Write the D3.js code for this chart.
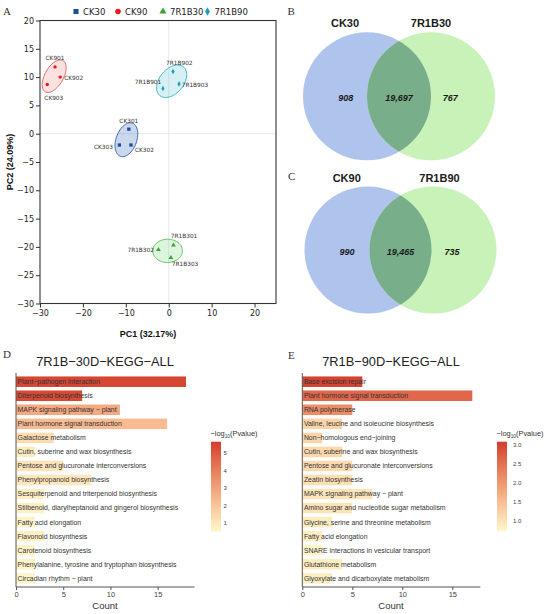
<!DOCTYPE html>
<html><head><meta charset="utf-8">
<script src="https://cdn.jsdelivr.net/npm/d3@7"></script>
<style>body{margin:0;background:#fff} svg{display:block}</style>
</head><body>
<svg id="c" width="550" height="614"></svg>
<script>
// ---------------- Panel A: PCA data ----------------
const pcaGroups = ["CK30", "CK90", "7R1B30", "7R1B90"];
const pcaSamples = ["CK301","CK302","CK303","CK901","CK902","CK903","7R1B301","7R1B302","7R1B303","7R1B901","7R1B902","7R1B903"];
const pcaGroupOf = ["CK30","CK30","CK30","CK90","CK90","CK90","7R1B30","7R1B30","7R1B30","7R1B90","7R1B90","7R1B90"];
const pc1 = [-9.3, -8.8, -11.5, -26.5, -25.3, -28.3, 1.1, -2.4, 0.5, -1.35, 1.0, 2.4];
const pc2 = [0.8, -2.0, -2.0, 11.8, 10.0, 8.7, -19.7, -20.5, -21.9, 8.0, 11.0, 8.8];
const pcaXTicks = [-30, -20, -10, 0, 10, 20];
const pcaYTicks = [-30, -25, -20, -15, -10, -5, 0, 5, 10, 15, 20];
const pcaXLabel = "PC1 (32.17%)";
const pcaYLabel = "PC2 (24.09%)";

// ---------------- Panels B, C: Venn data ----------------
const vennBSets = ["CK30", "7R1B30"];
const vennBCounts = [908, 19697, 767];
const vennCSets = ["CK90", "7R1B90"];
const vennCCounts = [990, 19465, 735];

// ---------------- Panel D: KEGG 30D ----------------
const keggDTitle = "7R1B\u221230D\u2212KEGG\u2212ALL";
const keggDTerms = ["Plant\u2212pathogen interaction","Diterpenoid biosynthesis","MAPK signaling pathway \u2212 plant","Plant hormone signal transduction","Galactose metabolism","Cutin, suberine and wax biosynthesis","Pentose and glucuronate interconversions","Phenylpropanoid biosynthesis","Sesquiterpenoid and triterpenoid biosynthesis","Stilbenoid, diarylheptanoid and gingerol biosynthesis","Fatty acid elongation","Flavonoid biosynthesis","Carotenoid biosynthesis","Phenylalanine, tyrosine and tryptophan biosynthesis","Circadian rhythm \u2212 plant"];
const keggDCount = [18, 7, 11, 16, 4, 2, 5, 8, 3, 3, 2, 3, 2, 2, 2];
const keggDLogP = [5.4, 5.3, 2.8, 2.3, 1.3, 0.85, 1.1, 1.0, 0.75, 0.75, 0.7, 0.75, 0.65, 0.65, 0.62];
const keggDXTicks = [0, 5, 10, 15];
const keggDLegendTicks = [1, 2, 3, 4, 5];

// ---------------- Panel E: KEGG 90D ----------------
const keggETitle = "7R1B\u221290D\u2212KEGG\u2212ALL";
const keggETerms = ["Base excision repair","Plant hormone signal transduction","RNA polymerase","Valine, leucine and isoleucine biosynthesis","Non\u2212homologous end\u2212joining","Cutin, suberine and wax biosynthesis","Pentose and glucuronate interconversions","Zeatin biosynthesis","MAPK signaling pathway \u2212 plant","Amino sugar and nucleotide sugar metabolism","Glycine, serine and threonine metabolism","Fatty acid elongation","SNARE interactions in vesicular transport","Glutathione metabolism","Glyoxylate and dicarboxylate metabolism"];
const keggECount = [6, 17, 5, 4, 2, 4, 5, 5, 7, 5, 3, 2, 2, 4, 3];
const keggELogP = [3.02, 2.62, 2.14, 1.19, 1.19, 1.15, 1.12, 1.05, 0.98, 1.0, 0.88, 0.85, 0.74, 0.86, 0.84];
const keggEXTicks = [0, 5, 10, 15];
const keggELegendTicks = [1.0, 1.5, 2.0, 2.5, 3.0];

// ================= drawing =================
const svg = d3.select("#c");
const SANS = "'Liberation Sans', Arial, sans-serif";
const DJ = "'DejaVu Sans', sans-serif";
const SERIF = "'Liberation Serif', 'Times New Roman', serif";

function letter(t, x, y) {
  svg.append("text").attr("x", x).attr("y", y).text(t)
    .attr("font-family", SERIF).attr("font-size", 11).attr("fill", "#333");
}
letter("A", 3, 15); letter("B", 287.5, 15); letter("C", 288, 179.5);
letter("D", 3, 358); letter("E", 288, 359);

// ---------- Panel A ----------
const groupStyle = {
  "CK30":   {col: "#1f4e9c", fill: "rgba(70,110,185,0.28)", stroke: "#2d5ea8", sym: d3.symbolSquare, size: 11, lsize: 26},
  "CK90":   {col: "#e3191c", fill: "rgba(240,120,120,0.22)", stroke: "#e05a5a", sym: d3.symbolCircle, size: 9, lsize: 24},
  "7R1B30": {col: "#3aa33a", fill: "rgba(120,210,120,0.25)", stroke: "#5cbf5c", sym: d3.symbolTriangle, size: 10, lsize: 22},
  "7R1B90": {col: "#1aa3b8", fill: "rgba(110,200,220,0.28)", stroke: "#2fb0c6", sym: d3.symbolDiamond, size: 9, lsize: 20}
};
const labelOff = {
  "CK301": [0, -6, "middle"], "CK302": [4, 6.5, "start"], "CK303": [-6.5, 3.5, "end"],
  "CK901": [0, -7, "middle"], "CK902": [4, 2.8, "start"], "CK903": [6.5, 15.5, "middle"],
  "7R1B301": [-2.6, -7, "start"], "7R1B302": [-4.5, 1.8, "end"], "7R1B303": [1, 8, "start"],
  "7R1B901": [-1.7, -4, "end"], "7R1B902": [6.3, -6.7, "middle"], "7R1B903": [2.7, 3, "start"]
};

const xA = d3.scaleLinear().domain([-30, 25]).range([40, 276]);
const yA = d3.scaleLinear().domain([-30, 20]).range([303.5, 20.5]);
const gA = svg.append("g");

gA.append("line").attr("x1", xA(0)).attr("x2", xA(0)).attr("y1", yA(20)).attr("y2", yA(-30))
  .attr("stroke", "#e2e2e2").attr("stroke-width", 0.8);
gA.append("line").attr("x1", xA(-30)).attr("x2", xA(25)).attr("y1", yA(0)).attr("y2", yA(0))
  .attr("stroke", "#e2e2e2").attr("stroke-width", 0.8);

function ellipsePoints(xs, ys, k) {
  const n = xs.length, mx = d3.mean(xs), my = d3.mean(ys);
  let sxx = 0, syy = 0, sxy = 0;
  for (let i = 0; i < n; i++) {
    sxx += (xs[i] - mx) ** 2; syy += (ys[i] - my) ** 2; sxy += (xs[i] - mx) * (ys[i] - my);
  }
  sxx /= n - 1; syy /= n - 1; sxy /= n - 1;
  const tr = (sxx + syy) / 2, dd = Math.sqrt(((sxx - syy) / 2) ** 2 + sxy ** 2);
  const l1 = tr + dd, l2 = Math.max(tr - dd, 1e-6);
  const a = Math.abs(sxy) < 1e-9 ? (sxx >= syy ? 0 : Math.PI / 2) : Math.atan2(l1 - sxx, sxy);
  const pts = [];
  for (let i = 0; i <= 72; i++) {
    const t = i / 72 * 2 * Math.PI;
    const u = k * Math.sqrt(l1) * Math.cos(t), v = k * Math.sqrt(l2) * Math.sin(t);
    pts.push([mx + u * Math.cos(a) - v * Math.sin(a), my + u * Math.sin(a) + v * Math.cos(a)]);
  }
  return pts;
}
const lineA = d3.line().x(d => xA(d[0])).y(d => yA(d[1]));
pcaGroups.forEach(g => {
  const idx = d3.range(pcaSamples.length).filter(i => pcaGroupOf[i] === g);
  const pts = ellipsePoints(idx.map(i => pc1[i]), idx.map(i => pc2[i]), 1.85);
  gA.append("path").attr("d", lineA(pts)).attr("fill", groupStyle[g].fill)
    .attr("stroke", groupStyle[g].stroke).attr("stroke-width", 0.9);
});

pcaSamples.forEach((s, i) => {
  const st = groupStyle[pcaGroupOf[i]];
  const px = xA(pc1[i]), py = yA(pc2[i]);
  gA.append("path").attr("d", d3.symbol().type(st.sym).size(st.size)())
    .attr("transform", `translate(${px},${py})`).attr("fill", st.col);
  const o = labelOff[s];
  gA.append("text").attr("x", px + o[0]).attr("y", py + o[1]).text(s)
    .attr("text-anchor", o[2]).attr("font-family", DJ).attr("font-size", 5.8).attr("fill", "#333");
});

// axes
const axL = d3.axisLeft(yA).tickValues(pcaYTicks).tickSize(4).tickPadding(2);
const axB = d3.axisBottom(xA).tickValues(pcaXTicks).tickSize(4).tickPadding(2.5);
const gl = gA.append("g").attr("transform", `translate(${xA(-30)},0)`).call(axL);
const gb = gA.append("g").attr("transform", `translate(0,${yA(-30)})`).call(axB);
[gl, gb].forEach(g => {
  g.select(".domain").remove();
  g.selectAll("line").attr("stroke", "#333");
  g.selectAll("text").attr("font-family", DJ).attr("font-size", 8).attr("fill", "#222");
});
gA.append("rect").attr("x", xA(-30)).attr("y", yA(20)).attr("width", xA(25) - xA(-30))
  .attr("height", yA(-30) - yA(20)).attr("fill", "none").attr("stroke", "#333").attr("stroke-width", 1.1);
gA.append("text").attr("x", (xA(-30) + xA(25)) / 2 - 10).attr("y", 337).attr("text-anchor", "middle")
  .text(pcaXLabel).attr("font-family", SANS).attr("font-weight", "bold").attr("font-size", 9).attr("fill", "#111");
gA.append("text").attr("transform", `translate(13,${(yA(20) + yA(-30)) / 2}) rotate(-90)`)
  .attr("text-anchor", "middle").text(pcaYLabel)
  .attr("font-family", SANS).attr("font-weight", "bold").attr("font-size", 9).attr("fill", "#111");

// legend A
const legX = [76, 118, 163, 207.5];
pcaGroups.forEach((g, i) => {
  const st = groupStyle[g];
  gA.append("path").attr("d", d3.symbol().type(st.sym).size(st.lsize)())
    .attr("transform", `translate(${legX[i]},11.5)`).attr("fill", st.col);
  gA.append("text").attr("x", legX[i] + 7).attr("y", 14.6).text(g)
    .attr("font-family", DJ).attr("font-size", 8.5).attr("fill", "#222");
});

// ---------- Venn panels ----------
function venn(sets, counts, cx1, cx2, cy, r, labY, labX, numY, id) {
  const g = svg.append("g");
  const defs = g.append("defs");
  defs.append("clipPath").attr("id", id).append("circle").attr("cx", cx1).attr("cy", cy).attr("r", r);
  g.append("circle").attr("cx", cx1).attr("cy", cy).attr("r", r).attr("fill", "#aec4ec");
  g.append("circle").attr("cx", cx2).attr("cy", cy).attr("r", r).attr("fill", "#c9f2b8");
  g.append("circle").attr("cx", cx2).attr("cy", cy).attr("r", r).attr("fill", "#79ae8b")
    .attr("clip-path", `url(#${id})`);
  sets.forEach((s, i) => {
    g.append("text").attr("x", labX[i]).attr("y", labY).attr("text-anchor", "middle").text(s)
      .attr("font-family", SANS).attr("font-weight", "bold").attr("font-size", 11).attr("fill", "#1a1a1a");
  });
  const nx = [cx1 - 0.33 * r, (cx1 + cx2) / 2, cx2 + 0.3 * r];
  const fmt = d3.format(",");
  counts.forEach((c, i) => {
    g.append("text").attr("x", nx[i]).attr("y", numY).attr("text-anchor", "middle").text(fmt(c))
      .attr("font-family", SANS).attr("font-weight", "bold").attr("font-style", "italic")
      .attr("font-size", 9).attr("fill", "#1a1a1a");
  });
}
venn(vennBSets, vennBCounts, 367, 431, 96.3, 64, 27.3, [345, 431], 101, "clipB");
venn(vennCSets, vennCCounts, 368, 433, 250, 63.5, 181.7, [346.7, 439.5], 255, "clipC");

// ---------- KEGG bar panels ----------
const lowCol = "#fff8cc", highCol = "#d23b2d";
function keggPanel(o) {
  const g = svg.append("g");
  const x = d3.scaleLinear().domain([0, o.xMax]).range([o.x0, o.x1]);
  const y = d3.scaleBand().domain(o.terms).range([373, 587]).paddingInner(0.25).paddingOuter(0.245);
  const col = d3.scaleLinear().domain(o.cDomain).range([lowCol, highCol]).interpolate(d3.interpolateLab).clamp(true);

  g.append("text").attr("x", o.titleX).attr("y", 366).attr("text-anchor", "middle").text(o.title)
    .attr("font-family", SANS).attr("font-size", 12.8).attr("fill", "#222");

  o.terms.forEach((t, i) => {
    g.append("rect").attr("x", x(0)).attr("y", y(t)).attr("width", x(o.counts[i]) - x(0))
      .attr("height", y.bandwidth()).attr("fill", col(o.logp[i]));
  });
  o.terms.forEach(t => {
    g.append("text").attr("x", x(0) + 1.6).attr("y", y(t) + y.bandwidth() / 2 + 2.4).text(t)
      .attr("font-family", SANS).attr("font-size", 6.9).attr("fill", "#333");
  });
  const ax = d3.axisBottom(x).tickValues(o.xTicks).tickSize(3).tickPadding(1.5);
  const ga = g.append("g").attr("transform", `translate(0,587)`).call(ax);
  ga.select(".domain").attr("stroke", "#555").attr("d", `M${x(0)},0H${o.x1}`);
  ga.selectAll("line").attr("stroke", "#555");
  ga.selectAll("text").attr("font-family", SANS).attr("font-size", 7.5).attr("fill", "#444");
  g.append("line").attr("x1", x(0)).attr("x2", x(0)).attr("y1", 373).attr("y2", 587)
    .attr("stroke", "#555").attr("stroke-width", 1);
  g.append("text").attr("x", o.titleX).attr("y", 609).attr("text-anchor", "middle").text("Count")
    .attr("font-family", SANS).attr("font-size", 9.5).attr("fill", "#333");

  // legend
  const lx = o.legX, top = 441.7, bot = 531.7;
  const gid = o.id;
  const grad = g.append("defs").append("linearGradient").attr("id", gid)
    .attr("x1", 0).attr("y1", 1).attr("x2", 0).attr("y2", 0);
  d3.range(0, 1.0001, 0.1).forEach(t => {
    grad.append("stop").attr("offset", t).attr("stop-color", col(o.cDomain[0] + t * (o.cDomain[1] - o.cDomain[0])));
  });
  g.append("rect").attr("x", lx).attr("y", top).attr("width", 10).attr("height", bot - top).attr("fill", `url(#${gid})`);
  const ly = d3.scaleLinear().domain(o.cDomain).range([bot, top]);
  o.legTicks.forEach(v => {
    g.append("text").attr("x", lx + o.legLabDx).attr("y", ly(v) + 2.2).text(o.legFmt(v))
      .attr("font-family", SANS).attr("font-size", 6).attr("fill", "#444");
  });
  const tt = g.append("text").attr("x", lx - 0.5).attr("y", 436).attr("font-family", SANS)
    .attr("font-size", 7.4).attr("fill", "#333");
  tt.append("tspan").text("\u2212log");
  tt.append("tspan").text("10").attr("font-size", 4.8).attr("dy", 1.8);
  tt.append("tspan").text("(Pvalue)").attr("dy", -1.8);
}
keggPanel({id: "gradD", title: keggDTitle, terms: keggDTerms, counts: keggDCount, logp: keggDLogP,
  xTicks: keggDXTicks, xMax: 18.9, x0: 16, x1: 194.5, titleX: 105, cDomain: [0.52, 5.63],
  legX: 211, legTicks: keggDLegendTicks, legFmt: d3.format("d"), legLabDx: 12.5});
keggPanel({id: "gradE", title: keggETitle, terms: keggETerms, counts: keggECount, logp: keggELogP,
  xTicks: keggEXTicks, xMax: 17.8, x0: 302.3, x1: 480.3, titleX: 391, cDomain: [0.72, 3.09],
  legX: 497, legTicks: keggELegendTicks, legFmt: d3.format(".1f"), legLabDx: 16});
</script>
</body></html>
